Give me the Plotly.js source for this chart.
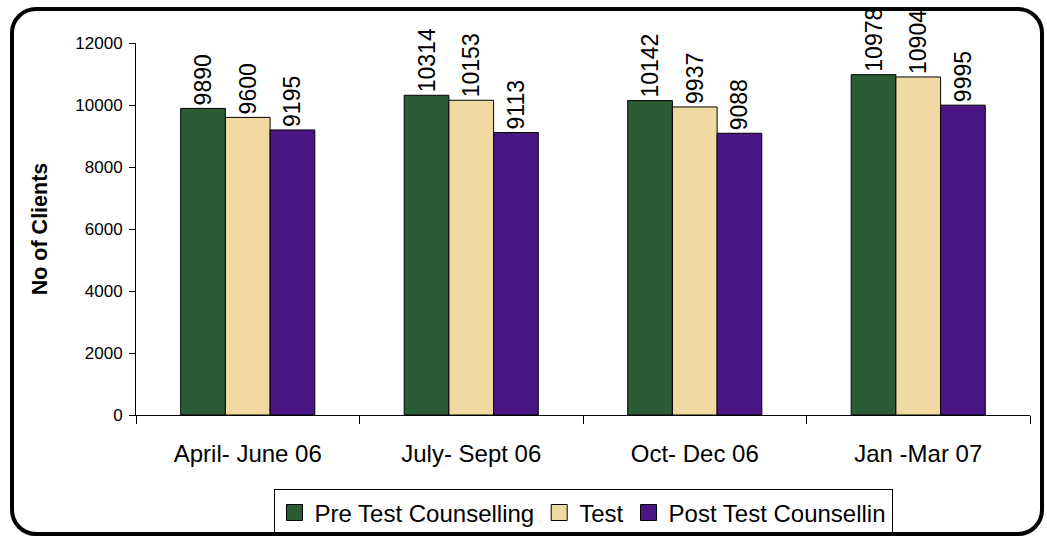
<!DOCTYPE html>
<html>
<head>
<meta charset="utf-8">
<script src="https://cdn.plot.ly/plotly-3.0.1.min.js"></script>
<style>
  html, body { margin: 0; padding: 0; background: #ffffff; }
  #wrap { position: relative; width: 1047px; height: 539px; }
  #chart { position: absolute; left: 0; top: 0; width: 1047px; height: 539px; }
  #frame {
    position: absolute; left: 10px; top: 7px; width: 1026px; height: 521px;
    border: 4.5px solid #000; border-radius: 26px; pointer-events: none;
  }
</style>
</head>
<body>
<div id="wrap">
  <div id="chart"></div>
  <div id="frame"></div>
</div>
<script>
const categories = ["April- June 06", "July- Sept 06", "Oct- Dec 06", "Jan -Mar 07"];
const preTest = [9890, 10314, 10142, 10978];
const test = [9600, 10153, 9937, 10904];
const postTest = [9195, 9113, 9088, 9995];
const seriesNames = ["Pre Test Counselling", "Test", "Post Test Counsellin"];
const yTicks = [0, 2000, 4000, 6000, 8000, 10000, 12000];

const colors = ["#2a5c36", "#f1d9a2", "#4b1684"];
const font = "Liberation Sans, Arial, sans-serif";

function mkBar(name, vals, color) {
  return {
    type: "bar", name: name, x: categories, y: vals, showlegend: false,
    marker: { color: color, line: { color: "#000", width: 1 } },
    text: vals.map(String), textposition: "outside", textangle: -90,
    constraintext: "none", cliponaxis: false,
    textfont: { family: font, size: 23, color: "#000" },
    hoverinfo: "none"
  };
}
// legend-only entries (larger square swatches as in the reference)
function mkKey(name, color) {
  return {
    type: "scatter", mode: "markers", name: name, x: [null], y: [null],
    marker: { symbol: "square", size: 16, color: color, line: { color: "#000", width: 1 } },
    showlegend: true, hoverinfo: "none"
  };
}

const data = [
  mkBar(seriesNames[0], preTest, colors[0]),
  mkBar(seriesNames[1], test, colors[1]),
  mkBar(seriesNames[2], postTest, colors[2]),
  mkKey(seriesNames[0], colors[0]),
  mkKey(seriesNames[1], colors[1]),
  mkKey(seriesNames[2], colors[2])
];

const layout = {
  width: 1047, height: 539,
  margin: { l: 136, r: 17, t: 43, b: 0 },
  paper_bgcolor: "rgba(0,0,0,0)", plot_bgcolor: "rgba(0,0,0,0)",
  barmode: "group", bargap: 0.4, bargroupgap: 0,
  font: { family: font, color: "#000" },
  showlegend: true,
  legend: {
    orientation: "h", x: 0.5, xanchor: "center", y: 0.1, yanchor: "top",
    bordercolor: "#000", borderwidth: 1, bgcolor: "#fff",
    font: { family: font, size: 24, color: "#000" },
    itemwidth: 30, itemclick: false, tracegroupgap: 0
  },
  xaxis: {
    type: "category", tickson: "boundaries", ticks: "outside", ticklen: 8,
    tickcolor: "#000", showline: true, linecolor: "#000", linewidth: 1,
    showgrid: false, zeroline: false,
    tickfont: { family: font, size: 24, color: "#000" },
    ticklabelstandoff: 17
  },
  yaxis: {
    domain: [0.25, 1],
    range: [0, 12000], tickvals: yTicks, ticktext: yTicks.map(String),
    ticks: "outside", ticklen: 6, tickcolor: "#000",
    showline: true, linecolor: "#000", linewidth: 1,
    showgrid: false, zeroline: false,
    tickfont: { family: font, size: 17, color: "#000" },
    ticklabelstandoff: 3,
    title: { text: "<b>No of Clients</b>", font: { family: font, size: 21.5, color: "#000" }, standoff: 21 }
  }
};

Plotly.newPlot("chart", data, layout, { displayModeBar: false, staticPlot: true });
</script>
</body>
</html>
